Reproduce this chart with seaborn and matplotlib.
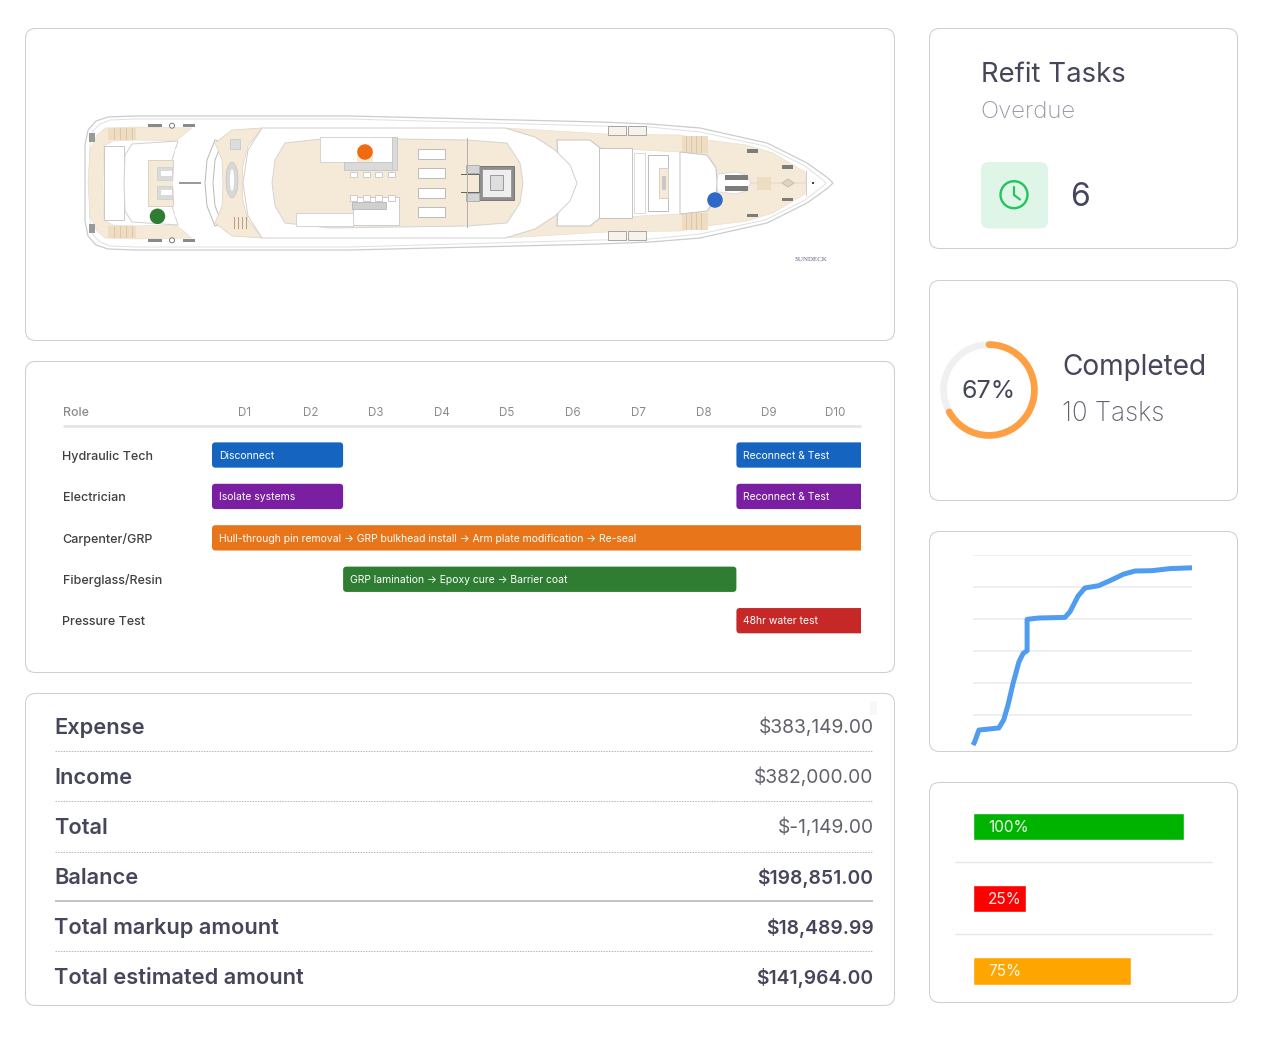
import matplotlib
matplotlib.use("Agg")
import matplotlib.pyplot as plt
import seaborn as sns
from matplotlib.patches import FancyBboxPatch, Polygon, Rectangle, Ellipse, Arc, BoxStyle

#%% data
task_role = ["Hydraulic Tech", "Hydraulic Tech", "Electrician", "Electrician",
             "Carpenter/GRP", "Fiberglass/Resin", "Pressure Test"]
task_start = [0, 8, 0, 8, 0, 2, 8]
task_days = [2, 2, 2, 2, 10, 6, 2]
task_text = ["Disconnect", "Reconnect & Test", "Isolate systems", "Reconnect & Test",
             "Hull-through pin removal \u2192 GRP bulkhead install \u2192 Arm plate modification \u2192 Re-seal",
             "GRP lamination \u2192 Epoxy cure \u2192 Barrier coat", "48hr water test"]
task_color = ["#1565c0", "#1565c0", "#7b1fa2", "#7b1fa2", "#e8751a", "#2e7d32", "#c62828"]
roles = ["Hydraulic Tech", "Electrician", "Carpenter/GRP", "Fiberglass/Resin", "Pressure Test"]
days = ["D1", "D2", "D3", "D4", "D5", "D6", "D7", "D8", "D9", "D10"]

table_labels = ["Expense", "Income", "Total", "Balance", "Total markup amount", "Total estimated amount"]
table_values = ["$383,149.00", "$382,000.00", "$-1,149.00", "$198,851.00", "$18,489.99", "$141,964.00"]

curve_x = [0, 0.8, 2.7, 11.8, 14, 16, 18.3, 21, 22.9, 24.7, 24.7, 29.8, 42, 44.3, 48,
           51.1, 57.3, 62.6, 68.7, 74, 81.7, 90, 100]
curve_y = [1.2, 3.3, 10.6, 11.9, 16.9, 26.3, 39.8, 53.3, 58.5, 60.2, 79.8, 80.6, 81, 84.6,
           94.4, 99.4, 100.8, 104, 108, 110, 110.2, 111.5, 112]
curve_grid = [20, 40, 60, 80, 100, 120]

progress_names = ["a", "b", "c"]
progress_values = [100, 25, 75]
progress_colors = ["#00b300", "#ff0000", "#ffa500"]

completed_pct = 67
dot_x = [157.5, 365, 715]
dot_y = [216.3, 152, 200]
dot_colors = ["#2e7d32", "#f26a10", "#2f67c8"]

#%% style
W, H = 1287, 1049
PX = 0.72
Card_Edge = "#cfcfcf"
Ink = "#46465a"
Ink_Light = "#62626f"
Gray_Text = "#9a9aa6"
Main_Font = ["Inter", "DejaVu Sans"]
Gantt_Font = ["Inter", "DejaVu Sans"]

sns.set_theme(style="white")
plt.rcParams["font.family"] = Main_Font

Fig = plt.figure(figsize=[W / 100, H / 100], dpi=100, facecolor="white")


def px_axes(x0, y0, x1, y1, **kw):
    ax = Fig.add_axes([x0 / W, 1 - y1 / H, (x1 - x0) / W, (y1 - y0) / H], **kw)
    ax.patch.set_visible(False)
    return ax


canvas = px_axes(0, 0, W, H)
canvas.set_xlim(0, W)
canvas.set_ylim(H, 0)
canvas.axis("off")


def card(x0, y0, x1, y1, fc="white", ec=Card_Edge, r=10, lw=0.75):
    canvas.add_patch(FancyBboxPatch((x0, y0), x1 - x0, y1 - y0,
                                    boxstyle=BoxStyle.Round(pad=0, rounding_size=r),
                                    fc=fc, ec=ec, lw=lw))


card(25.5, 28.5, 894.5, 340.5)
card(25.5, 361.5, 894.5, 672.5)
card(25.5, 693.5, 894.5, 1005.5)
card(929.5, 28.5, 1237.5, 248.5)
card(929.5, 280.5, 1237.5, 500.5)
card(929.5, 531.5, 1237.5, 751.5)
card(929.5, 782.5, 1237.5, 1002.5)

#%% yacht plan, pixel coordinates, mirrored about the centre line
Mid = 183
yacht = px_axes(26, 29, 894, 340)
yacht.set_xlim(26, 894)
yacht.set_ylim(340, 29)
Teak = "#f5e9d8"
Teak_Dark = "#eedcc3"
Outline = "#cfcfcf"

z_now = [1]


def poly(pts, fc="white", ec=Outline, lw=0.7, mirror=True):
    pts = list(pts)
    if mirror:
        pts = pts + [(x, 2 * Mid - y) for x, y in reversed(pts)]
    z_now[0] += 0.01
    yacht.add_patch(Polygon(pts, closed=True, fc=fc, ec=ec, lw=lw, zorder=z_now[0], joinstyle="round"))


def box(x0, y0, x1, y1, fc="white", ec=Outline, lw=0.7, mirror=True):
    z_now[0] += 0.01
    yacht.add_patch(Rectangle((x0, y0), x1 - x0, y1 - y0, fc=fc, ec=ec, lw=lw, zorder=z_now[0]))
    if mirror:
        yacht.add_patch(Rectangle((x0, 2 * Mid - y1), x1 - x0, y1 - y0, fc=fc, ec=ec, lw=lw, zorder=z_now[0]))


hull = [(85, 183), (85, 145), (88, 130), (96, 121), (108, 117), (135, 116), (350, 116), (600, 122),
        (650, 124), (700, 128), (767, 143), (807, 163), (828, 178), (833, 183)]
hull_in = [(89, 183), (90, 145), (93, 131), (100, 124), (110, 120), (135, 119), (350, 119), (600, 126),
           (650, 127), (700, 132), (765, 146), (805, 166), (823, 180), (826, 183)]
poly(hull, ec="#cccccc", lw=0.9)
poly(hull_in, ec="#e0e0e0", lw=0.7)

# stern deck
poly([(88, 183), (90, 150), (97, 135), (105, 128), (136, 127), (192, 128), (176, 141), (136, 140),
      (113, 141), (104, 146), (103, 183)], fc=Teak, ec="#e6dccc", lw=0.4)
box(104, 146, 124, 220, mirror=False, ec="#c8c8c8")
poly([(124, 183), (125, 155), (132, 144), (178, 141), (172, 160), (172, 183)], ec=Outline)
box(148, 160, 173, 206, fc=Teak, ec="#ddd2c2", mirror=False)
box(157, 167, 172, 180, fc="#dadada", ec="#d2d2d2")
box(161, 171, 172, 176, fc="white", ec="none")
for x0, x1 in [(148, 162), (183, 195)]:
    box(x0, 124, x1, 127, fc="#8a8a8a", ec="none")
box(89, 133, 95, 142, fc="#999999", ec="none")
box(108, 128, 136, 140, fc=Teak_Dark, ec="none")
for xs in (114, 120, 126, 132):
    box(xs, 128, xs + 0.7, 140, fc="#dcc6a8", ec="none")
z_now[0] += 0.01
for yc in (125.7, 240.3):
    yacht.add_patch(Ellipse((172, yc), 5, 5, fc="white", ec="#777777", lw=0.7, zorder=z_now[0]))
poly([(173, 183), (175, 150), (192, 128), (222, 128), (222, 183)], ec="none")
box(179, 182, 201, 184, fc="#9a9a9a", ec="none", mirror=False)

# aft crescent
poly([(205, 183), (207, 160), (215, 140), (222, 143), (215, 160), (213, 183)], ec="#b8b8b8", lw=0.7)
poly([(223, 183), (222, 160), (215, 143), (232, 130), (262, 128), (248, 146), (243, 165), (242, 183)],
     fc=Teak, ec="#ddd2c2", lw=0.5)
box(230, 139, 240, 149, fc="#dcdcdc", ec="#cccccc", mirror=False)
for xs in (234, 238, 242, 246):
    box(xs, 217, xs + 1, 229, fc="#b99f80", ec="none", mirror=False)
z_now[0] += 0.01
yacht.add_patch(Ellipse((232, 180), 12, 35, fc="#d8d8d8", ec="#c4c4c4", lw=0.5, zorder=z_now[0]))
yacht.add_patch(Ellipse((232, 180), 4, 22, fc="white", ec="none", zorder=z_now[0]))

# foredeck
poly([(505, 128), (607, 134), (680, 135), (707, 140), (747, 145), (773, 153), (805, 172), (806, 183),
      (718, 183), (715, 165), (707, 155), (680, 152), (600, 148), (557, 140)], fc=Teak, ec="#e6dccc", lw=0.4)
box(682, 136, 708, 153, fc=Teak_Dark, ec="none")
for xs in [686, 691, 696, 701]:
    box(xs, 136, xs + 0.7, 153, fc="#dcc6a8", ec="none")
box(757, 177, 771, 190, fc=Teak_Dark, ec="none", mirror=False)
box(718, 172, 751, 194, fc=Teak, ec="none", mirror=False)
poly([(716, 183), (718, 174), (736, 172), (746, 175), (751, 183)], ec="#dcdcdc")
poly([(680, 183), (680, 152), (707, 155), (716, 168), (717, 183)], ec="#c4c4c4")

# windows and foredeck seating
poly([(560, 183), (557, 140), (590, 140), (600, 148), (600, 183)], ec="#c4c4c4")
box(599, 148, 632, 218, ec="#c4c4c4", mirror=False)
box(634, 153, 645, 213, ec="#dadada", mirror=False)
box(648, 155, 668, 211, ec="#bcbcbc", mirror=False)
box(659, 168, 668, 198, fc=Teak, ec="#dad0c0", mirror=False)
box(662, 176, 666, 190, fc="#c8c8c8", ec="none", mirror=False)
for x0, x1 in [(608, 626), (628, 646)]:
    box(x0, 126, x1, 135, fc="#f7f3ea", ec="#999999", lw=0.6)
for x0, y0, x1, y1 in [(747, 149, 758, 152.5), (782, 165, 793, 168.5), (725, 175, 748, 180)]:
    box(x0, y0, x1, y1, fc="#7c7c7c", ec="none")
poly([(806, 170), (806, 196)], ec="#cfcfcf", mirror=False)
poly([(782, 183), (788, 179), (794, 183), (788, 187)], fc="#e1d3bd", ec="#c8bdad", mirror=False)
box(812, 182, 814, 184, fc="#444444", ec="none", mirror=False)

# superstructure and sundeck
poly([(243, 183), (248, 150), (262, 128), (505, 128), (535, 137), (555, 150), (570, 165), (577, 183)], ec="#d0d0d0")
poly([(272, 183), (275, 160), (285, 143), (330, 138), (467, 140), (507, 143), (520, 163), (523, 183)],
     fc=Teak, ec="#d4d4d4")
box(320, 137, 392, 162, mirror=False, ec="#d4d4d4")
box(357, 148, 373, 162, fc=Teak, ec="none", mirror=False)
box(344, 162, 397, 170, fc="#dadada", ec="#c8c8c8", mirror=False)
box(392, 137, 397, 170, fc="#dadada", ec="#c8c8c8", mirror=False)
box(353, 197, 399, 225, mirror=False, ec="#cccccc")
box(352, 202, 386, 209, fc="#d0d0d0", ec="#bdbdbd", mirror=False)
box(296, 213, 353, 226, mirror=False, ec="#d4d4d4")
for xs in (350, 363, 375, 388):
    box(xs, 172, xs + 7, 177, ec="#cccccc", mirror=False)
    box(xs, 195, xs + 7, 201, ec="#cccccc", mirror=False)
for ys in (149, 168, 188, 207):
    box(418, ys, 445, ys + 10, ec="#bbbbbb", mirror=False)
box(479, 166, 514, 200, fc="#8e8e8e", ec="#777777", mirror=False)
box(482, 169, 511, 197, fc="#efefef", ec="#9a9a9a", mirror=False)
box(490, 175, 503, 190, fc="#dedede", ec="#999999", mirror=False)
box(466, 165, 479, 173, fc="#d4d4d4", ec="#b0b0b0")
box(461, 173.5, 479, 174.5, fc="#666666", ec="none")
box(466.5, 138, 467.5, 228, fc="#b0b0b0", ec="none", mirror=False)

sns.scatterplot(x=dot_x, y=dot_y, hue=dot_colors, palette=dict(zip(dot_colors, dot_colors)),
                s=(15.5 * PX) ** 2, linewidth=0, legend=False, ax=yacht, zorder=5)
yacht.set_xlim(26, 894)
yacht.set_ylim(340, 29)
yacht.axis("off")
yacht.text(810.5, 259.5, "SUNDECK", ha="center", va="center", fontsize=5.0, color="#5c5c84",
           family="Liberation Serif", zorder=6)

#%% gantt
Day_Px = 65.55
Row_Px = 41.4
gantt = px_axes(212, 426, 861, 642)
for i in range(len(task_role)):
    sns.barplot(x=[task_days[i]], y=[task_role[i]], order=roles, orient="y", left=task_start[i],
                color=task_color[i], saturation=1, width=25.3 / Row_Px, errorbar=None, ax=gantt)
gantt.set_xlim(0, 649 / Day_Px)
gantt.set_ylim(4 + 21.3 / Row_Px, -29 / Row_Px)

# seaborn bars have square corners, swap them for rounded ones
for bar in list(gantt.patches):
    gantt.add_patch(FancyBboxPatch((bar.get_x(), bar.get_y()), bar.get_width(), bar.get_height(),
                                   boxstyle=BoxStyle.Round(pad=0, rounding_size=3.5 / Day_Px),
                                   mutation_aspect=Day_Px / Row_Px, fc=bar.get_facecolor(), ec="none"))
    bar.remove()

for i in range(len(task_role)):
    gantt.text(task_start[i] + 7 / Day_Px, roles.index(task_role[i]) + 0.7 / Row_Px, task_text[i], color="white",
               fontsize=10.4 * PX, ha="left", va="center", family=Gantt_Font, clip_on=False)

gantt.set_xticks([i + 0.5 for i in range(len(days))])
gantt.set_xticklabels(days, fontsize=11.6 * PX, color="#8b8b8b", family=Gantt_Font)
gantt.xaxis.tick_top()
gantt.tick_params(axis="x", length=0, pad=4.7)
gantt.set_yticks(range(len(roles)))
gantt.set_yticklabels(roles, fontsize=12.5 * PX, color="#3f3f3f", ha="left", family=Gantt_Font,
                      fontweight="medium")
gantt.tick_params(axis="y", length=0, pad=149.5 * PX)
gantt.set_xlabel("")
gantt.set_ylabel("")
sns.despine(ax=gantt, left=True, bottom=True, top=True, right=True)

canvas.plot([63, 861], [426, 426], color="#e3e3e3", lw=2.6 * PX, solid_capstyle="butt")
canvas.text(62.5, 413, "Role", fontsize=12.4 * PX, color="#8b8b8b", va="center", family=Gantt_Font,
            fontweight="medium")

#%% table
Row_Y = [728, 778, 828, 878, 928, 978]
Sep_Y = [751, 801, 851.5, 901, 951.3]
for i, name in enumerate(table_labels):
    canvas.text(54.5, Row_Y[i], name, fontsize=21.8 * PX, color=Ink, fontweight="semibold", va="center")
    strong = i >= 3
    canvas.text(873.5, Row_Y[i] - 0.5, table_values[i], fontsize=(19.3 if strong else 19.2) * PX, ha="right",
                va="center", color=Ink if strong else Ink_Light, fontweight="semibold" if strong else "normal")
for y in Sep_Y:
    if y == 901:
        canvas.plot([55, 873], [y, y], color="#c4c4c4", lw=2 * PX, solid_capstyle="butt")
    else:
        canvas.plot([55, 873], [y, y], color="#b9b9b9", lw=1 * PX, ls=(0, (1.5, 1.2)))
canvas.add_patch(Rectangle((870, 701), 7, 14, fc="#f8f8f8", ec="none"))

#%% refit tasks
canvas.text(981, 75.5, "Refit Tasks", fontsize=27.5 * PX, color=Ink, va="center")
canvas.text(980.5, 112.5, "Overdue", fontsize=24 * PX, color=Gray_Text, va="center", fontweight="light")
card(981, 162, 1048, 228.5, fc="#dff5e7", ec="none", r=8)
canvas.add_patch(Ellipse((1014, 194.7), 27, 27, fc="none", ec="#22c55e", lw=2.4 * PX))
canvas.plot([1014, 1014, 1020], [187, 195, 199.5], color="#22c55e", lw=2.2 * PX, solid_capstyle="round")
canvas.text(1070.5, 197, "6", fontsize=32 * PX, color=Ink, va="center")

#%% completed ring
ring = px_axes(938, 339, 1040, 441)
ring.set_xlim(-51, 51)
ring.set_ylim(-51, 51)
ring.axis("off")
Ring_R = 45.4
ring.add_patch(Arc((0, 0), 2 * Ring_R, 2 * Ring_R, theta1=0, theta2=360, color="#f0f0f3", lw=6.7 * PX))
ring.add_patch(Arc((0, 0), 2 * Ring_R, 2 * Ring_R, theta1=90 - 360 * completed_pct / 100, theta2=90,
                   color="#ff9f43", lw=6.7 * PX, capstyle="round"))
ring.text(0, -2, f"{completed_pct}%", fontsize=25 * PX, color=Ink, ha="center", va="center")
canvas.text(1062.5, 367.5, "Completed", fontsize=28 * PX, color=Ink, va="center")
canvas.text(1062.5, 414, "10 Tasks", fontsize=26 * PX, color=Ink_Light, va="center", fontweight="light")

#%% s curve
curve = px_axes(973, 555, 1192, 747)
sns.lineplot(x=curve_x, y=curve_y, sort=False, estimator=None, color="#4f9cf0", lw=5 * PX, ax=curve,
             solid_capstyle="butt", solid_joinstyle="round", zorder=3, clip_on=False)
curve.set_xlim(0, 100)
curve.set_ylim(0, 120)
curve.set_yticks(curve_grid)
curve.set_xticks([])
curve.tick_params(labelleft=False, length=0)
curve.grid(axis="y", color="#ececec", lw=1.2)
curve.set_axisbelow(True)
sns.despine(ax=curve, left=True, bottom=True)

#%% progress bars
prog = px_axes(973.2, 790, 1184.2, 1006)
sns.barplot(x=progress_values, y=progress_names, hue=progress_names,
            palette=dict(zip(progress_names, progress_colors)), order=progress_names, orient="y",
            saturation=1, width=27.3 / 72, legend=False, ax=prog)
prog.set_xlim(0, 100)
prog.set_ylim(2 + 35 / 72, -36.5 / 72)
prog.axis("off")
for i, val in enumerate(progress_values):
    prog.text(14.8 * 100 / 211, i + 1 / 72, f"{val}%", color="white", alpha=0.92, fontsize=15.3 * PX, va="center")
for y in (862, 934.3):
    canvas.plot([955, 1212], [y, y], color="#e8e8e8", lw=1.4 * PX, solid_capstyle="butt")

Fig.savefig("out.png", dpi=100)
